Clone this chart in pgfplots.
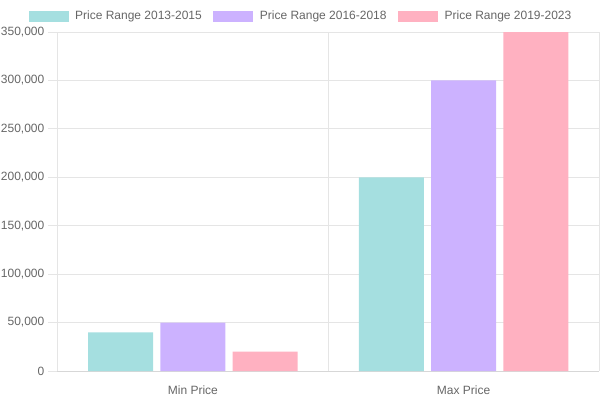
\documentclass[border=0pt]{standalone}
\usepackage{pgfplots}
\pgfplotsset{compat=1.18}
\usepackage{fontspec}
\setmainfont{Liberation Sans}
\definecolor{cteal}{RGB}{165,223,224}
\definecolor{cpurple}{RGB}{204,178,255}
\definecolor{cpink}{RGB}{255,177,193}
\definecolor{ctext}{RGB}{102,102,102}
\definecolor{cgrid}{RGB}{229,229,229}
\definecolor{caxis}{RGB}{215,215,215}
\pgfplotsset{
  mylegend/.style={legend image code/.code={\fill[##1,draw=none] (0pt,-5.5pt) rectangle (40pt,5.5pt);}}
}
\begin{document}
\fontsize{12}{14}\selectfont
\begin{tikzpicture}
\useasboundingbox (0pt,0pt) rectangle (600pt,400pt);
\begin{axis}[
  at={(57.5pt,29pt)}, anchor=south west,
  scale only axis, width=541.5pt, height=339pt,
  xmin=-0.5, xmax=1.5, ymin=0, ymax=350000,
  xtick={0,1}, xticklabels={Min Price,Max Price},
  xtick style={draw=none},
  extra x ticks={-0.5,0.5,1.5}, extra x tick labels={},
  extra x tick style={grid=major, tick align=outside, tick style={draw=cgrid}},
  ytick={0,50000,...,350000},
  ymajorgrids, grid style={cgrid, line width=0.8pt},
  tick align=outside, major tick length=9pt,
  tick pos=left,
  y tick style={cgrid, line width=0.8pt},
  scaled y ticks=false,
  /pgf/number format/.cd, fixed, 1000 sep={,}, assume math mode=true, /pgfplots/.cd,
  ticklabel style={font=\fontsize{12}{14}\selectfont, text=ctext},
  xticklabel style={yshift=-1.5pt},
  axis line style={caxis, line width=0.8pt},
  axis x line*=bottom, axis y line*=left,
  legend columns=3,
  legend style={at={(axis description cs:0.4478,1)}, anchor=center, yshift=16pt,
    draw=none, fill=none, inner sep=0pt, font=\fontsize{12}{14}\selectfont, text=ctext,
    nodes={inner sep=0pt},
    /tikz/every odd column/.append style={column sep=6.5pt},
    /tikz/every even column/.append style={column sep=11.5pt}},
]
\addplot[ybar, bar width=65pt, bar shift=-72.3pt, fill=cteal, draw=none, mylegend] coordinates {(0,40000) (1,200000)};
\addlegendentry{Price Range 2013-2015}
\addplot[ybar, bar width=65pt, bar shift=0pt, fill=cpurple, draw=none, mylegend] coordinates {(0,50000) (1,300000)};
\addlegendentry{Price Range 2016-2018}
\addplot[ybar, bar width=65pt, bar shift=72.3pt, fill=cpink, draw=none, mylegend] coordinates {(0,20000) (1,350000)};
\addlegendentry{Price Range 2019-2023}
\end{axis}
\end{tikzpicture}
\end{document}
